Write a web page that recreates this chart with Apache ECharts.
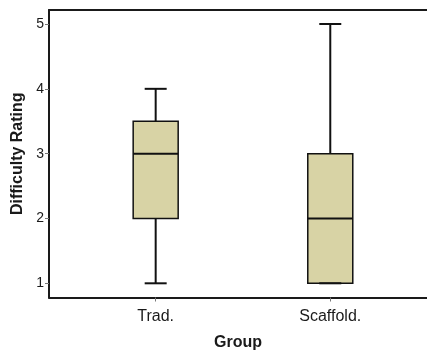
<!DOCTYPE html>
<html>
<head>
<meta charset="utf-8">
<script src="https://cdn.jsdelivr.net/npm/echarts@6/dist/echarts.min.js"></script>
<style>html,body{margin:0;padding:0;background:#fff;}#c{width:427px;height:350px;}</style>
</head>
<body>
<div id="c"></div>
<script>
const categories = ['Trad.', 'Scaffold.'];
const minVals = [1, 1];
const q1Vals = [2, 1];
const medianVals = [3, 2];
const q3Vals = [3.5, 3];
const maxVals = [4, 5];
const yTickValues = [1, 2, 3, 4, 5];
const xTickValues = [0, 1];

const boxData = categories.map((c, i) => [i, minVals[i], q1Vals[i], medianVals[i], q3Vals[i], maxVals[i]]);

const chart = echarts.init(document.getElementById('c'), null, {renderer: 'canvas'});
const BOX_HALF = 22.5;
const CAP_HALF = 11;
const FONT = 'Liberation Sans, Arial, sans-serif';

chart.setOption({
  animation: false,
  backgroundColor: '#ffffff',
  grid: {left: 49, top: 10, right: 0, bottom: 52.5, show: false, containLabel: false, outerBoundsMode: 'none'},
  xAxis: [{
    type: 'value', min: -0.611, max: 1.554,
    splitLine: {show: false},
    axisLine: {show: true, onZero: false, lineStyle: {color: '#1a1a1a', width: 2}},
    axisTick: {show: true, length: 4, customValues: xTickValues, lineStyle: {color: '#777', width: 1}},
    axisLabel: {customValues: xTickValues, formatter: v => categories[Math.round(v)] || '', color: '#1a1a1a', fontFamily: FONT, fontSize: 16, margin: 11},
    name: 'Group', nameLocation: 'middle', nameGap: 37,
    nameTextStyle: {color: '#1a1a1a', fontFamily: FONT, fontSize: 16, fontWeight: 'bold'}
  }, {
    type: 'value', position: 'top', min: -0.611, max: 1.554,
    splitLine: {show: false},
    axisLine: {show: true, onZero: false, lineStyle: {color: '#1a1a1a', width: 2}},
    axisTick: {show: false}, axisLabel: {show: false}
  }],
  yAxis: {
    type: 'value', min: 0.781, max: 5.216,
    splitLine: {show: false},
    axisLine: {show: true, onZero: false, lineStyle: {color: '#1a1a1a', width: 2}},
    axisTick: {show: true, length: 4, customValues: yTickValues, lineStyle: {color: '#777', width: 1}},
    axisLabel: {customValues: yTickValues, color: '#1a1a1a', fontFamily: FONT, fontSize: 14, margin: 5},
    name: 'Difficulty Rating', nameLocation: 'middle', nameGap: 21,
    nameTextStyle: {color: '#1a1a1a', fontFamily: FONT, fontSize: 16, fontWeight: 'bold'}
  },
  series: [{
    type: 'custom',
    xAxisIndex: 0,
    data: boxData,
    encode: {x: 0, y: [1, 2, 3, 4, 5]},
    renderItem: function (params, api) {
      const x = api.value(0);
      const pMin = api.coord([x, api.value(1)]);
      const pQ1 = api.coord([x, api.value(2)]);
      const pMed = api.coord([x, api.value(3)]);
      const pQ3 = api.coord([x, api.value(4)]);
      const pMax = api.coord([x, api.value(5)]);
      const cx = pMed[0];
      const lineStyle = {stroke: '#111', lineWidth: 2};
      return {
        type: 'group',
        children: [
          {type: 'line', shape: {x1: cx, y1: pMax[1], x2: cx, y2: pQ3[1]}, style: lineStyle},
          {type: 'line', shape: {x1: cx, y1: pQ1[1], x2: cx, y2: pMin[1]}, style: lineStyle},
          {type: 'rect', shape: {x: cx - BOX_HALF, y: pQ3[1], width: BOX_HALF * 2, height: pQ1[1] - pQ3[1]},
            style: {fill: '#d8d3a5', stroke: '#111', lineWidth: 1.5}},
          {type: 'line', shape: {x1: cx - BOX_HALF, y1: pMed[1], x2: cx + BOX_HALF, y2: pMed[1]}, style: lineStyle},
          {type: 'line', shape: {x1: cx - CAP_HALF, y1: pMax[1], x2: cx + CAP_HALF, y2: pMax[1]}, style: lineStyle},
          {type: 'line', shape: {x1: cx - CAP_HALF, y1: pMin[1], x2: cx + CAP_HALF, y2: pMin[1]}, style: lineStyle}
        ]
      };
    }
  }]
});
</script>
</body>
</html>
